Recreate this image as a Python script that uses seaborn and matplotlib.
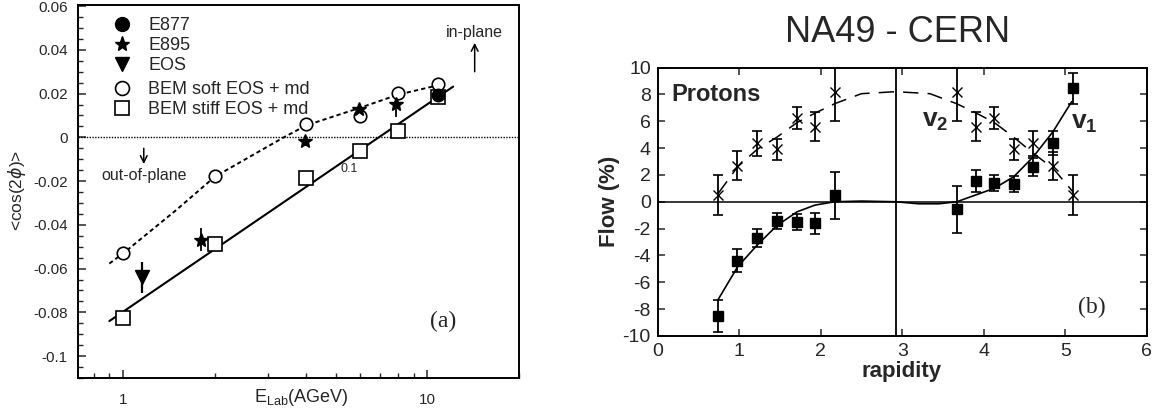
import numpy as np
import pandas as pd
import matplotlib
matplotlib.use("Agg")
import matplotlib.pyplot as plt
from matplotlib.lines import Line2D
import seaborn as sns

# ---------------- data: panel (a) ----------------
soft_E = [1.0, 2.0, 4.0, 6.0, 8.0, 10.8]
soft_v = [-0.053, -0.0176, 0.0062, 0.0097, 0.0201, 0.0244]
stiff_E = [1.0, 2.0, 4.0, 6.0, 8.0, 10.8]
stiff_v = [-0.0824, -0.0488, -0.0185, -0.0062, 0.0027, 0.0183]
e895_E = [1.8, 3.95, 5.95, 7.9]
e895_v = [-0.0468, -0.0018, 0.013, 0.0153]
e895_err = [0.0052, 0.002, 0.002, 0.006]
eos_E = [1.15]
eos_v = [-0.064]
eos_err = [0.0072]
e877_E = [10.8]
e877_v = [0.0195]
e877_err = [0.002]
soft_curve_E = [0.9, 1.0, 1.5, 2.0, 3.0, 3.37, 4.0, 6.0, 8.0, 11.3]
soft_curve_v = [-0.0577, -0.053, -0.033, -0.018, -0.004, 0.0, 0.0055, 0.0135, 0.0195, 0.0244]
stiff_line_E = [0.9, 12.15]
stiff_line_v = [-0.084, 0.0232]
yticks_a = [-0.1, -0.08, -0.06, -0.04, -0.02, 0.0, 0.02, 0.04, 0.06]
yticklabels_a = ["-0.1", "-0.08", "-0.06", "-0.04", "-0.02", "0", "0.02", "0.04", "0.06"]
xticks_a = [1, 10]
xticklabels_a = ["1", "10"]

# ---------------- data: panel (b) ----------------
y_pts = [0.736, 0.977, 1.215, 1.46, 1.706, 1.934, 2.17, 3.67, 3.90, 4.13, 4.37, 4.61, 4.85, 5.10]
v2_pts = [0.5, 2.7, 4.36, 3.91, 6.22, 5.6, 8.2, 8.2, 5.6, 6.22, 3.91, 4.36, 2.66, 0.5]
v2_err = [1.5, 1.05, 0.93, 0.8, 0.82, 1.06, 2.2, 2.2, 1.06, 0.82, 0.8, 0.93, 1.05, 1.5]
v1_pts = [-8.53, -4.40, -2.73, -1.42, -1.54, -1.62, 0.5, -0.56, 1.54, 1.37, 1.30, 2.61, 4.36, 8.46]
v1_err = [1.2, 0.86, 0.67, 0.6, 0.6, 0.81, 1.75, 1.74, 0.81, 0.6, 0.6, 0.67, 0.9, 1.16]
v2_curve_y = [0.74, 0.98, 1.22, 1.46, 1.71, 1.93, 2.17, 2.5, 2.92, 3.34, 3.67, 3.91, 4.13, 4.37, 4.61, 4.85, 5.10]
v2_curve_v = [0.6, 2.6, 3.9, 4.8, 5.9, 6.6, 7.3, 8.05, 8.2, 8.05, 7.3, 6.6, 5.9, 4.8, 3.6, 2.5, 0.7]
v1_curve_y = [0.74, 0.98, 1.22, 1.46, 1.71, 1.93, 2.17, 2.5, 2.92, 3.2, 3.45, 3.67, 3.9, 4.13, 4.37, 4.61, 4.85, 5.08]
v1_curve_v = [-7.3, -4.85, -3.23, -1.79, -0.75, -0.25, 0.0, 0.05, 0.0, -0.15, -0.15, 0.0, 0.5, 1.0, 1.87, 3.36, 5.22, 7.46]
mid_rapidity = 2.92
xticks_b = [0, 1, 2, 3, 4, 5, 6]
yticks_b = [-10, -8, -6, -4, -2, 0, 2, 4, 6, 8, 10]

# ---------------- style ----------------
sns.set_theme(style="ticks")
plt.rcParams["font.family"] = ["Liberation Sans", "DejaVu Sans"]
plt.rcParams["axes.unicode_minus"] = False
plt.rcParams["mathtext.fontset"] = "custom"
plt.rcParams["mathtext.rm"] = "Liberation Sans"
plt.rcParams["mathtext.bf"] = "Liberation Sans:bold"
plt.rcParams["axes.linewidth"] = 1.4
plt.rcParams["axes.edgecolor"] = "black"

W, H = 1165, 412
fig = plt.figure(figsize=(W / 100, H / 100), dpi=100)
fig.patch.set_facecolor("white")
axL = fig.add_axes([78 / W, 1 - 378 / H, (519 - 78) / W, (378 - 5) / H])
axR = fig.add_axes([657.7 / W, 1 - 336 / H, (1146.7 - 657.7) / W, (336 - 67.5) / H])

# ================= panel (a) =================
ax = axL
ax.set_xscale("log")
ax.axhline(0, color="black", lw=1.0, ls=(0, (1, 1)), zorder=1)
sns.lineplot(x=soft_curve_E, y=soft_curve_v, ax=ax, color="black", lw=1.4,
             linestyle=(0, (2.2, 1.6)), sort=False, estimator=None, zorder=2)
sns.lineplot(x=stiff_line_E, y=stiff_line_v, ax=ax, color="black", lw=1.5,
             sort=False, estimator=None, zorder=2)
ax.errorbar(e895_E, e895_v, yerr=e895_err, fmt="none", ecolor="black", elinewidth=1.3, zorder=3)
ax.errorbar(eos_E, eos_v, yerr=eos_err, fmt="none", ecolor="black", elinewidth=1.6, zorder=3)
ax.errorbar(e877_E, e877_v, yerr=e877_err, fmt="none", ecolor="black", elinewidth=1.3, zorder=3)
ax.plot(soft_E, soft_v, ls="none", marker="o", ms=9, mfc="white", mec="black", mew=1.2, zorder=4)
ax.plot(stiff_E, stiff_v, ls="none", marker="s", ms=10.5, mfc="white", mec="black", mew=1.2, zorder=4)
ax.plot(e895_E, e895_v, ls="none", marker="*", ms=10, color="black", zorder=5)
ax.plot(eos_E, eos_v, ls="none", marker="v", ms=10, color="black", zorder=5)
ax.plot(e877_E, e877_v, ls="none", marker="o", ms=9, color="black", zorder=5)

ax.set_xlim(0.71, 20)
ax.set_ylim(-0.11, 0.0605)
ax.set_xticks(xticks_a)
ax.set_xticklabels(xticklabels_a)
ax.set_yticks(yticks_a)
ax.set_yticklabels(yticklabels_a)
ax.yaxis.set_minor_locator(matplotlib.ticker.MultipleLocator(0.005))
ax.xaxis.set_minor_locator(matplotlib.ticker.LogLocator(base=10, subs=np.arange(2, 10)))
ax.xaxis.set_minor_formatter(matplotlib.ticker.NullFormatter())
ax.tick_params(which="major", direction="in", length=6, width=1.1, labelsize=11,
               top=False, right=False)
ax.tick_params(axis="y", which="major", pad=7.5)
ax.tick_params(axis="x", which="major", pad=10.5)
ax.tick_params(which="minor", direction="in", length=3.5, width=1.0, top=False, right=False)
ax.set_xlabel("")
ax.set_ylabel("")

h1 = [Line2D([], [], ls="none", marker="o", ms=10, color="black"),
      Line2D([], [], ls="none", marker="*", ms=11, color="black"),
      Line2D([], [], ls="none", marker="v", ms=10, color="black")]
leg1 = ax.legend(h1, ["E877", "E895", "EOS"], loc="upper left",
                 bbox_to_anchor=((111 - 78) / 441, (378 - 17) / 373), frameon=False,
                 fontsize=13, handlelength=1.2, handletextpad=0.85, labelspacing=0.18,
                 borderpad=0, borderaxespad=0)
ax.add_artist(leg1)
h2 = [Line2D([], [], ls="none", marker="o", ms=10, mfc="white", mec="black", mew=1.2),
      Line2D([], [], ls="none", marker="s", ms=10.5, mfc="white", mec="black", mew=1.2)]
ax.legend(h2, ["BEM soft EOS + md", "BEM stiff EOS + md"], loc="upper left",
          bbox_to_anchor=((111 - 78) / 441, (378 - 81) / 373), frameon=False,
          fontsize=13, handlelength=1.2, handletextpad=0.85, labelspacing=0.18,
          borderpad=0, borderaxespad=0)

ax.text(14.3, 0.048, "in-plane", fontsize=11.5, ha="center", va="center")
ax.annotate("", xy=(14.3, 0.0432), xytext=(14.3, 0.030),
            arrowprops=dict(arrowstyle="->", lw=1.1, color="black", shrinkA=0, shrinkB=0))
ax.text(1.168, -0.0173, "out-of-plane", fontsize=11.5, ha="center", va="center")
ax.annotate("", xy=(1.168, -0.0122), xytext=(1.168, -0.005),
            arrowprops=dict(arrowstyle="->", lw=1.1, color="black", shrinkA=0, shrinkB=0))
ax.text(5.52, -0.0145, "0.1", fontsize=9, ha="center", va="center")
ax.text(11.26, -0.0843, "(a)", fontsize=17, ha="center", va="center",
        family=["Liberation Serif", "DejaVu Serif"])

fig.text(16.5 / W, 1 - 190 / H, r"<cos(2$\phi$)>", rotation=90, fontsize=12.5,
         ha="center", va="center")
fig.text(301 / W, 1 - 398 / H, r"E$_{\rm Lab}$(AGeV)", fontsize=13, ha="center", va="center")

# ================= panel (b) =================
ax = axR
ax.axhline(0, color="black", lw=1.1, zorder=1)
ax.axvline(mid_rapidity, color="black", lw=1.3, zorder=1)
sns.lineplot(x=v2_curve_y, y=v2_curve_v, ax=ax, color="black", lw=1.1,
             linestyle=(0, (10, 6)), sort=False, estimator=None, zorder=2)
sns.lineplot(x=v1_curve_y, y=v1_curve_v, ax=ax, color="black", lw=1.2,
             sort=False, estimator=None, zorder=2)
ax.errorbar(y_pts, v2_pts, yerr=v2_err, fmt="none", ecolor="black", elinewidth=1.3,
            capsize=3.3, capthick=1.2, zorder=3)
ax.errorbar(y_pts, v1_pts, yerr=v1_err, fmt="none", ecolor="black", elinewidth=1.3,
            capsize=3.3, capthick=1.2, zorder=3)
ax.plot(y_pts, v2_pts, ls="none", marker="x", ms=6.5, mew=1.0, color="black", zorder=4)
ax.plot(y_pts, v1_pts, ls="none", marker="s", ms=6.5, color="black", zorder=4)

ax.set_xlim(0, 6)
ax.set_ylim(-10, 10)
ax.set_xticks(xticks_b)
ax.set_yticks(yticks_b)
ax.tick_params(direction="in", length=5, width=1.1, labelsize=14, top=True, right=True, pad=5)
ax.set_xlabel("")
ax.set_ylabel("")

ax.text(0.17, 7.96, "Protons", fontsize=17, fontweight="bold", ha="left", va="center")
ax.text(3.24, 5.6, r"$\mathbf{v}_{\mathbf{2}}$", fontsize=19, ha="left", va="baseline")
ax.text(5.07, 5.48, r"$\mathbf{v}_{\mathbf{1}}$", fontsize=19, ha="left", va="baseline")
ax.text(5.33, -7.84, "(b)", fontsize=17, ha="center", va="center",
        family=["Liberation Serif", "DejaVu Serif"])

fig.text(897.5 / W, 1 - 33 / H, "NA49 - CERN", fontsize=26, ha="center", va="center")
fig.text(610 / W, 1 - 201 / H, "Flow (%)", rotation=90, fontsize=16, fontweight="bold",
         ha="center", va="center")
fig.text(902 / W, 1 - 372 / H, "rapidity", fontsize=16, fontweight="bold",
         ha="center", va="center")

fig.savefig("out.png", dpi=100)
